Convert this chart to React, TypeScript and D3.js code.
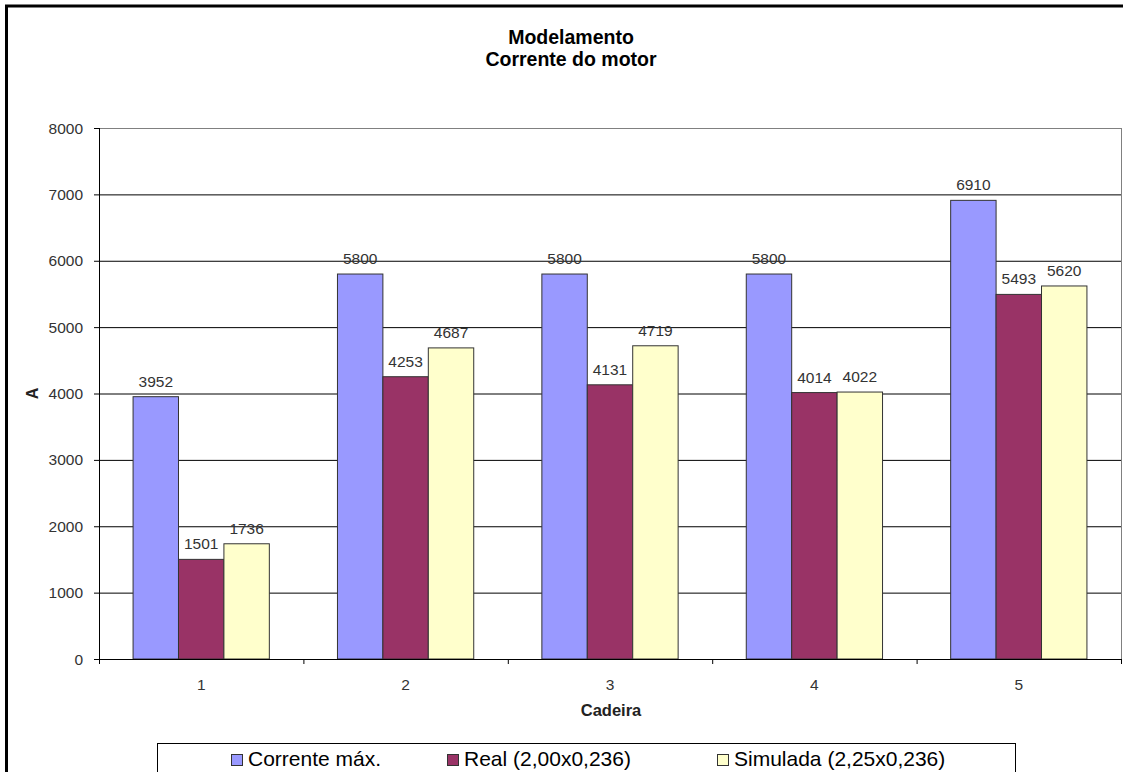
import React from "react";
import * as d3 from "d3";

const WIDTH = 1123;
const HEIGHT = 772;
const FONT = "Arial, 'Liberation Sans', sans-serif";

const categories = ["1", "2", "3", "4", "5"];
const seriesNames = ["Corrente máx.", "Real (2,00x0,236)", "Simulada (2,25x0,236)"];
const seriesColors = ["#9999FF", "#993366", "#FFFFCC"];
const correnteMax = [3952, 5800, 5800, 5800, 6910];
const real = [1501, 4253, 4131, 4014, 5493];
const simulada = [1736, 4687, 4719, 4022, 5620];
const yTicks = [0, 1000, 2000, 3000, 4000, 5000, 6000, 7000, 8000];

const series = [correnteMax, real, simulada];

export default function App() {
  const x0 = d3.scaleBand().domain(categories).range([99, 1121]).paddingInner(0).paddingOuter(0);
  const x1 = d3
    .scaleBand()
    .domain(seriesNames)
    .range([0, x0.bandwidth()])
    .paddingInner(0)
    .paddingOuter(0.75);
  const y = d3.scaleLinear().domain([0, 8000]).range([659, 128]);

  const left = 99;
  const right = 1121;

  // legend item positions (x of the square)
  const legendX = [231, 447, 717];

  return (
    <div style={{ position: "absolute", left: 0, top: 0 }}>
      <svg width={WIDTH} height={HEIGHT} style={{ display: "block", background: "#fff" }} fontFamily={FONT}>
        {/* outer frame */}
        <rect x={6.5} y={6} width={WIDTH + 20} height={HEIGHT + 20} fill="none" stroke="#000" strokeWidth={3} />

        {/* title */}
        <text x={571} y={44} textAnchor="middle" fontWeight="bold" fontSize={19.5} fill="#000">
          Modelamento
        </text>
        <text x={571} y={66} textAnchor="middle" fontWeight="bold" fontSize={19.5} fill="#000">
          Corrente do motor
        </text>

        {/* grid lines */}
        {yTicks.filter((t) => t > 0 && t < 8000).map((t) => (
          <line key={t} x1={left} x2={right} y1={y(t) + 0.5} y2={y(t) + 0.5} stroke="#000" strokeWidth={1} />
        ))}
        {/* plot area border top/right */}
        <line x1={left} x2={right} y1={y(8000) + 0.5} y2={y(8000) + 0.5} stroke="#808080" strokeWidth={1} />
        <line x1={right + 0.5} x2={right + 0.5} y1={y(8000)} y2={y(0)} stroke="#808080" strokeWidth={1} />

        {/* bars */}
        {series.map((vals, si) =>
          categories.map((c, ci) => {
            const bx = (x0(c) as number) + (x1(seriesNames[si]) as number);
            const by = y(vals[ci]);
            return (
              <g key={`${si}-${ci}`}>
                <rect
                  x={bx}
                  y={by}
                  width={x1.bandwidth()}
                  height={y(0) - by}
                  fill={seriesColors[si]}
                  stroke="#333"
                  strokeWidth={1}
                />
                <text
                  x={bx + x1.bandwidth() / 2}
                  y={by - 10}
                  textAnchor="middle"
                  fontSize={15.5}
                  fill="#333"
                >
                  {vals[ci]}
                </text>
              </g>
            );
          })
        )}

        {/* y axis */}
        <line x1={left + 0.5} x2={left + 0.5} y1={y(8000)} y2={y(0)} stroke="#000" strokeWidth={1} />
        {yTicks.map((t) => (
          <g key={t}>
            <line x1={left - 5} x2={left} y1={y(t) + 0.5} y2={y(t) + 0.5} stroke="#000" strokeWidth={1} />
            <text x={83} y={y(t) + 5.5} textAnchor="end" fontSize={15.5} fill="#333">
              {t}
            </text>
          </g>
        ))}

        {/* x axis */}
        <line x1={left} x2={right + 1} y1={y(0) + 0.5} y2={y(0) + 0.5} stroke="#000" strokeWidth={1} />
        {categories.map((c) => (
          <line
            key={`t${c}`}
            x1={(x0(c) as number) + 0.5}
            x2={(x0(c) as number) + 0.5}
            y1={y(0)}
            y2={y(0) + 5}
            stroke="#000"
            strokeWidth={1}
          />
        ))}
        <line x1={right + 0.5} x2={right + 0.5} y1={y(0)} y2={y(0) + 5} stroke="#000" strokeWidth={1} />
        {categories.map((c) => (
          <text
            key={`l${c}`}
            x={(x0(c) as number) + x0.bandwidth() / 2}
            y={690}
            textAnchor="middle"
            fontSize={15.5}
            fill="#333"
          >
            {c}
          </text>
        ))}

        {/* axis titles */}
        <text x={611} y={716} textAnchor="middle" fontWeight="bold" fontSize={16.5} fill="#222">
          Cadeira
        </text>
        <text
          transform={`translate(38, ${(y(0) + y(8000)) / 2}) rotate(-90)`}
          textAnchor="middle"
          fontWeight="bold"
          fontSize={16}
          fill="#222"
        >
          A
        </text>

        {/* legend */}
        <rect x={157.5} y={743.5} width={858} height={60} fill="#fff" stroke="#000" strokeWidth={1} />
        {seriesNames.map((name, i) => (
          <g key={name}>
            <rect x={legendX[i] + 0.5} y={754.5} width={11} height={11} fill={seriesColors[i]} stroke="#333" strokeWidth={1} />
            <text x={legendX[i] + 17} y={766} fontSize={21} fill="#000">
              {name}
            </text>
          </g>
        ))}
      </svg>
    </div>
  );
}
